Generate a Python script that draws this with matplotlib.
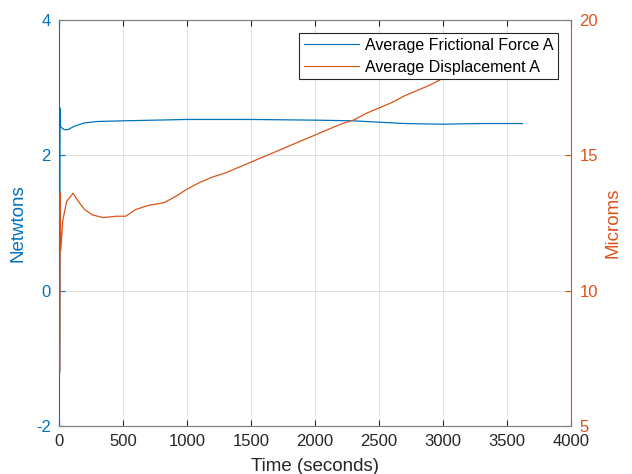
import numpy as np
import matplotlib.pyplot as plt

plt.rcParams['font.family'] = ['Liberation Sans', 'DejaVu Sans']
plt.rcParams['axes.unicode_minus'] = False

# Average frictional force (Newtons)
force_t = [6, 8, 12, 40, 70, 120, 200, 300, 500, 1000, 1500, 2000, 2300,
           2500, 2700, 3000, 3300, 3620]
force_v = [-1.2, 2.7, 2.42, 2.38, 2.38, 2.43, 2.48, 2.5, 2.51, 2.53, 2.53,
           2.52, 2.51, 2.49, 2.47, 2.46, 2.47, 2.47]

# Average displacement (microns)
disp_t = [6, 9, 14, 30, 60, 110, 150, 200, 260, 345, 450, 520, 600, 700,
          820, 900, 1000, 1100, 1200, 1300, 1400, 1500, 1600, 1700, 1800,
          1900, 2000, 2100, 2200, 2300, 2400, 2500, 2600, 2700, 2800, 2900,
          3000, 3100, 3200, 3300, 3400, 3500, 3620]
disp_v = [7.0, 13.6, 11.5, 12.6, 13.3, 13.6, 13.3, 13.0, 12.8, 12.7, 12.75,
          12.75, 13.0, 13.15, 13.25, 13.45, 13.75, 14.0, 14.2, 14.35, 14.55,
          14.75, 14.95, 15.15, 15.35, 15.55, 15.75, 15.95, 16.15, 16.3, 16.55,
          16.75, 16.95, 17.2, 17.4, 17.6, 17.85, 18.1, 18.35, 18.6, 18.85,
          19.1, 19.4]

blue = '#0072BD'
orange = '#D95319'
gray = '#262626'

fig = plt.figure(figsize=(6.32, 4.74), dpi=100)
ax1 = fig.add_axes([59 / 632, 1 - 426 / 474, 512 / 632, 406 / 474])
ax2 = ax1.twinx()

l1, = ax1.plot(force_t, force_v, color=blue, lw=0.9)
l2, = ax2.plot(disp_t, disp_v, color=orange, lw=0.9)

ax1.set_xlim(0, 4000)
ax1.set_ylim(-2, 4)
ax2.set_ylim(5, 20)
ax1.set_xticks(np.arange(0, 4001, 500))
ax1.set_yticks([-2, 0, 2, 4])
ax2.set_yticks([5, 10, 15, 20])

ax1.grid(True, color='#dcdcdc', lw=0.6)
ax1.set_axisbelow(True)

ax1.tick_params(axis='x', direction='in', top=True, length=4, labelsize=12,
                colors=gray, labelcolor=gray, pad=6)
ax1.tick_params(axis='y', direction='in', length=4, labelsize=12,
                colors=blue, pad=6)
ax2.tick_params(axis='y', direction='in', length=4, labelsize=12,
                colors=orange, pad=6)

for ax in (ax1, ax2):
    ax.spines['top'].set_color('#808080')
    ax.spines['bottom'].set_color('#808080')
ax1.spines['left'].set_color(blue)
ax2.spines['left'].set_visible(False)
ax2.spines['right'].set_color(orange)
ax1.spines['right'].set_visible(False)

ax1.set_xlabel('Time (seconds)', fontsize=13.5, color=gray, labelpad=6)
ax1.set_ylabel('Netwtons', fontsize=13.5, color=blue, labelpad=7)
ax2.set_ylabel('Microms', fontsize=13.5, color=orange, rotation=90, labelpad=5)

leg = ax2.legend([l1, l2], ['Average Frictional Force A', 'Average Displacement A'],
                 loc='upper right', fontsize=11.5, frameon=True, fancybox=False,
                 edgecolor=gray, framealpha=1, handlelength=3.4,
                 handletextpad=0.4, borderpad=0.3, labelspacing=0.44,
                 borderaxespad=0.8)
leg.get_frame().set_linewidth(0.8)
for line in leg.get_lines():
    line.set_linewidth(0.8)

fig.savefig('out.png', dpi=100)
